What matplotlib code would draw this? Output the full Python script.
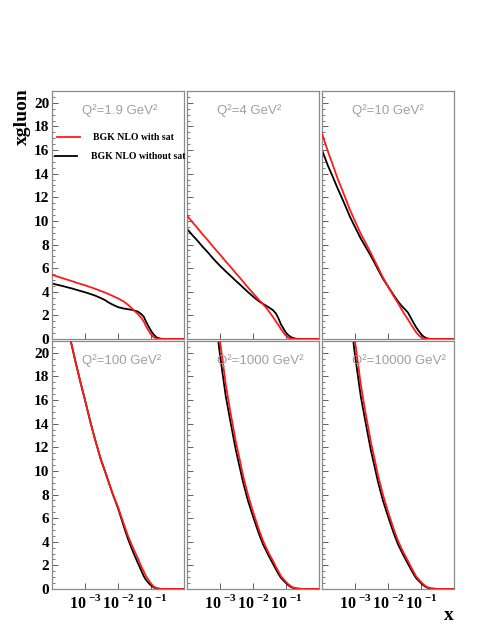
import matplotlib
matplotlib.use('Agg')
import matplotlib.pyplot as plt
from matplotlib.lines import Line2D
from matplotlib.ticker import FixedLocator, FixedFormatter, MultipleLocator, LogLocator, NullFormatter
import numpy as np

plt.rcParams['mathtext.fontset'] = 'custom'
plt.rcParams['mathtext.rm'] = 'Liberation Serif'
plt.rcParams['mathtext.bf'] = 'Liberation Serif:bold'

# common x grid (x = momentum fraction)
x = [1e-4, 1.5e-4, 2e-4, 3e-4, 4e-4, 5e-4, 7e-4, 1e-3, 1.5e-3, 2e-3, 3e-3,
     4e-3, 5e-3, 7e-3, 0.01, 0.015, 0.02, 0.025, 0.03, 0.04, 0.05, 0.06,
     0.07, 0.085, 0.1, 0.12, 0.15, 0.2, 0.3, 0.5, 1.0]

q2_labels = ['Q²=1.9 GeV²', 'Q²=4 GeV²', 'Q²=10 GeV²',
             'Q²=100 GeV²', 'Q²=1000 GeV²', 'Q²=10000 GeV²']

# BGK NLO with saturation
sat_q1p9 = [5.44, 5.28, 5.17, 5.01, 4.9, 4.81, 4.68, 4.55, 4.38, 4.26, 4.07,
            3.94, 3.82, 3.64, 3.44, 3.17, 2.9, 2.65, 2.43, 2.12, 1.8, 1.5,
            1.1, 0.7, 0.38, 0.15, 0.03, 0.0, 0.0, 0.0, 0.0]
sat_q4 = [10.45, 9.85, 9.45, 8.85, 8.46, 8.13, 7.64, 7.15, 6.56, 6.17, 5.58,
          5.19, 4.86, 4.37, 3.88, 3.32, 2.97, 2.65, 2.36, 1.88, 1.47, 1.15,
          0.85, 0.52, 0.28, 0.1, 0.02, 0.0, 0.0, 0.0, 0.0]
sat_q10 = [17.4, 15.9, 14.95, 13.55, 12.7, 12.0, 10.95, 9.98, 8.9, 8.25, 7.3,
           6.6, 6.05, 5.22, 4.45, 3.6, 3.05, 2.58, 2.2, 1.67, 1.22, 0.88,
           0.6, 0.32, 0.15, 0.05, 0.01, 0.0, 0.0, 0.0, 0.0]
sat_q100 = [28.5, 26.3, 24.4, 22.0, 20.6, 19.4, 17.7, 16.0, 14.0, 12.7, 11.0,
            10.0, 9.2, 8.0, 6.95, 5.5, 4.5, 3.85, 3.35, 2.6, 1.95, 1.5,
            1.1, 0.75, 0.45, 0.22, 0.07, 0.01, 0.0, 0.0, 0.0]
sat_q1000 = [47.5, 43.0, 40.0, 35.0, 31.8, 29.0, 25.0, 21.0, 17.3, 15.2, 12.5,
             10.9, 9.6, 8.0, 6.55, 5.05, 4.1, 3.5, 3.05, 2.4, 1.85, 1.45,
             1.1, 0.82, 0.6, 0.38, 0.18, 0.06, 0.01, 0.0, 0.0]
sat_q10000 = [47.5, 43.0, 40.0, 35.0, 31.8, 29.0, 25.0, 21.0, 17.3, 15.2, 12.5,
              10.9, 9.6, 8.0, 6.55, 5.05, 4.1, 3.5, 3.05, 2.4, 1.85, 1.45,
              1.1, 0.82, 0.6, 0.38, 0.18, 0.06, 0.01, 0.0, 0.0]

# BGK NLO without saturation
nosat_q1p9 = [4.7, 4.58, 4.5, 4.37, 4.28, 4.2, 4.08, 3.96, 3.8, 3.68, 3.47,
              3.3, 3.12, 2.9, 2.7, 2.58, 2.52, 2.48, 2.43, 2.32, 2.12, 1.9,
              1.5, 1.05, 0.7, 0.38, 0.12, 0.02, 0.0, 0.0, 0.0]
nosat_q4 = [9.33, 8.75, 8.38, 7.8, 7.43, 7.12, 6.65, 6.2, 5.72, 5.4, 4.93,
            4.62, 4.36, 3.98, 3.6, 3.2, 2.98, 2.82, 2.68, 2.45, 2.15, 1.7,
            1.25, 0.85, 0.53, 0.3, 0.12, 0.02, 0.0, 0.0, 0.0]
nosat_q10 = [16.0, 14.7, 13.9, 12.73, 11.95, 11.33, 10.37, 9.48, 8.5, 7.9, 7.05,
             6.4, 5.88, 5.12, 4.45, 3.7, 3.2, 2.85, 2.62, 2.25, 1.75, 1.35,
             1.03, 0.68, 0.42, 0.2, 0.06, 0.0, 0.0, 0.0, 0.0]
nosat_q100 = [28.5, 26.3, 24.4, 22.0, 20.6, 19.4, 17.7, 16.0, 14.0, 12.7, 11.0,
              10.0, 9.2, 8.0, 6.85, 5.3, 4.25, 3.55, 3.0, 2.2, 1.6, 1.1,
              0.78, 0.5, 0.3, 0.14, 0.04, 0.01, 0.0, 0.0, 0.0]
nosat_q1000 = [46.0, 41.5, 38.5, 33.5, 30.3, 27.5, 23.4, 19.8, 16.3, 14.4, 11.8,
               10.25, 9.05, 7.5, 6.15, 4.7, 3.8, 3.25, 2.8, 2.15, 1.65, 1.25,
               0.95, 0.7, 0.5, 0.3, 0.13, 0.04, 0.0, 0.0, 0.0]
nosat_q10000 = [46.0, 41.5, 38.5, 33.5, 30.3, 27.5, 23.4, 19.8, 16.3, 14.4, 11.8,
                10.25, 9.05, 7.5, 6.15, 4.7, 3.8, 3.25, 2.8, 2.15, 1.65, 1.25,
                0.95, 0.7, 0.5, 0.3, 0.13, 0.04, 0.0, 0.0, 0.0]

sat = [sat_q1p9, sat_q4, sat_q10, sat_q100, sat_q1000, sat_q10000]
nosat = [nosat_q1p9, nosat_q4, nosat_q10, nosat_q100, nosat_q1000, nosat_q10000]

W, H = 491, 635
fig = plt.figure(figsize=(W / 100, H / 100), dpi=100)

col_left = [52, 187, 322]
row_top = [91, 341]
pw, ph = 132, 248

serif = 'Liberation Serif'
spine_col = '#8a8a8a'

for i in range(6):
    r, c = divmod(i, 3)
    l = col_left[c] / W
    b = (H - row_top[r] - ph) / H
    ax = fig.add_axes([l, b, pw / W, ph / H])

    ax.plot(x, nosat[i], color='black', lw=1.3, zorder=2)
    ax.plot(x, sat[i], color='#ff1a1a', lw=1.3, zorder=3)

    ax.set_xscale('log')
    ax.set_xlim(1e-4, 1)
    ax.set_ylim(0, 21)

    for s in ax.spines.values():
        s.set_color(spine_col)
        s.set_linewidth(0.9)

    ax.yaxis.set_major_locator(MultipleLocator(2))
    ax.yaxis.set_minor_locator(MultipleLocator(0.5))
    ax.xaxis.set_major_locator(FixedLocator([1e-4, 1e-3, 1e-2, 1e-1, 1]))
    ax.xaxis.set_minor_locator(LogLocator(base=10, subs=np.arange(2, 10)))
    ax.xaxis.set_minor_formatter(NullFormatter())
    ax.tick_params(which='both', direction='in', color='#444444',
                   top=False, right=False)
    ax.tick_params(which='major', length=4, width=0.6)
    ax.tick_params(which='minor', length=2, width=0.5)

    if c == 0:
        ax.tick_params(axis='y', labelsize=11, pad=2)
        ax.set_yticks(range(0, 21, 2))
        ax.set_yticklabels([str(v) for v in range(0, 21, 2)],
                           fontfamily=serif, fontweight='bold')
    else:
        ax.set_yticklabels([])

    if r == 1:
        ax.xaxis.set_major_formatter(FixedFormatter(
            ['', r'$\mathbf{10}^{\;\mathbf{-3}}$', r'$\mathbf{10}^{\;\mathbf{-2}}$',
             r'$\mathbf{10}^{\;\mathbf{-1}}$', '']))
        ax.tick_params(axis='x', labelsize=11.5, pad=3)
    else:
        ax.xaxis.set_major_formatter(NullFormatter())

    ax.text(30 / pw, 0.92, q2_labels[i], transform=ax.transAxes,
            ha='left', va='center', fontsize=9.5, color='#a0a0a0',
            fontfamily='Liberation Sans')

# legend drawn over the first panel
fig.add_artist(Line2D([57 / W, 80 / W], [(H - 137) / H] * 2, color='#ff1a1a', lw=1.3))
fig.add_artist(Line2D([55 / W, 77 / W], [(H - 156) / H] * 2, color='black', lw=1.3))
fig.text(93 / W, (H - 137) / H, 'BGK NLO with sat', fontfamily=serif,
         fontweight='bold', fontsize=7, va='center', ha='left', zorder=10)
fig.text(91 / W, (H - 156) / H, 'BGK NLO without sat', fontfamily=serif,
         fontweight='bold', fontsize=7, va='center', ha='left', zorder=10)

fig.text(22 / W, (H - 117) / H, 'xgluon', rotation=90, fontfamily=serif,
         fontweight='bold', fontsize=14, ha='center', va='center')
fig.text(449 / W, (H - 615) / H, 'x', fontfamily=serif,
         fontweight='bold', fontsize=14, ha='center', va='center')

fig.savefig('out.png', dpi=100)
